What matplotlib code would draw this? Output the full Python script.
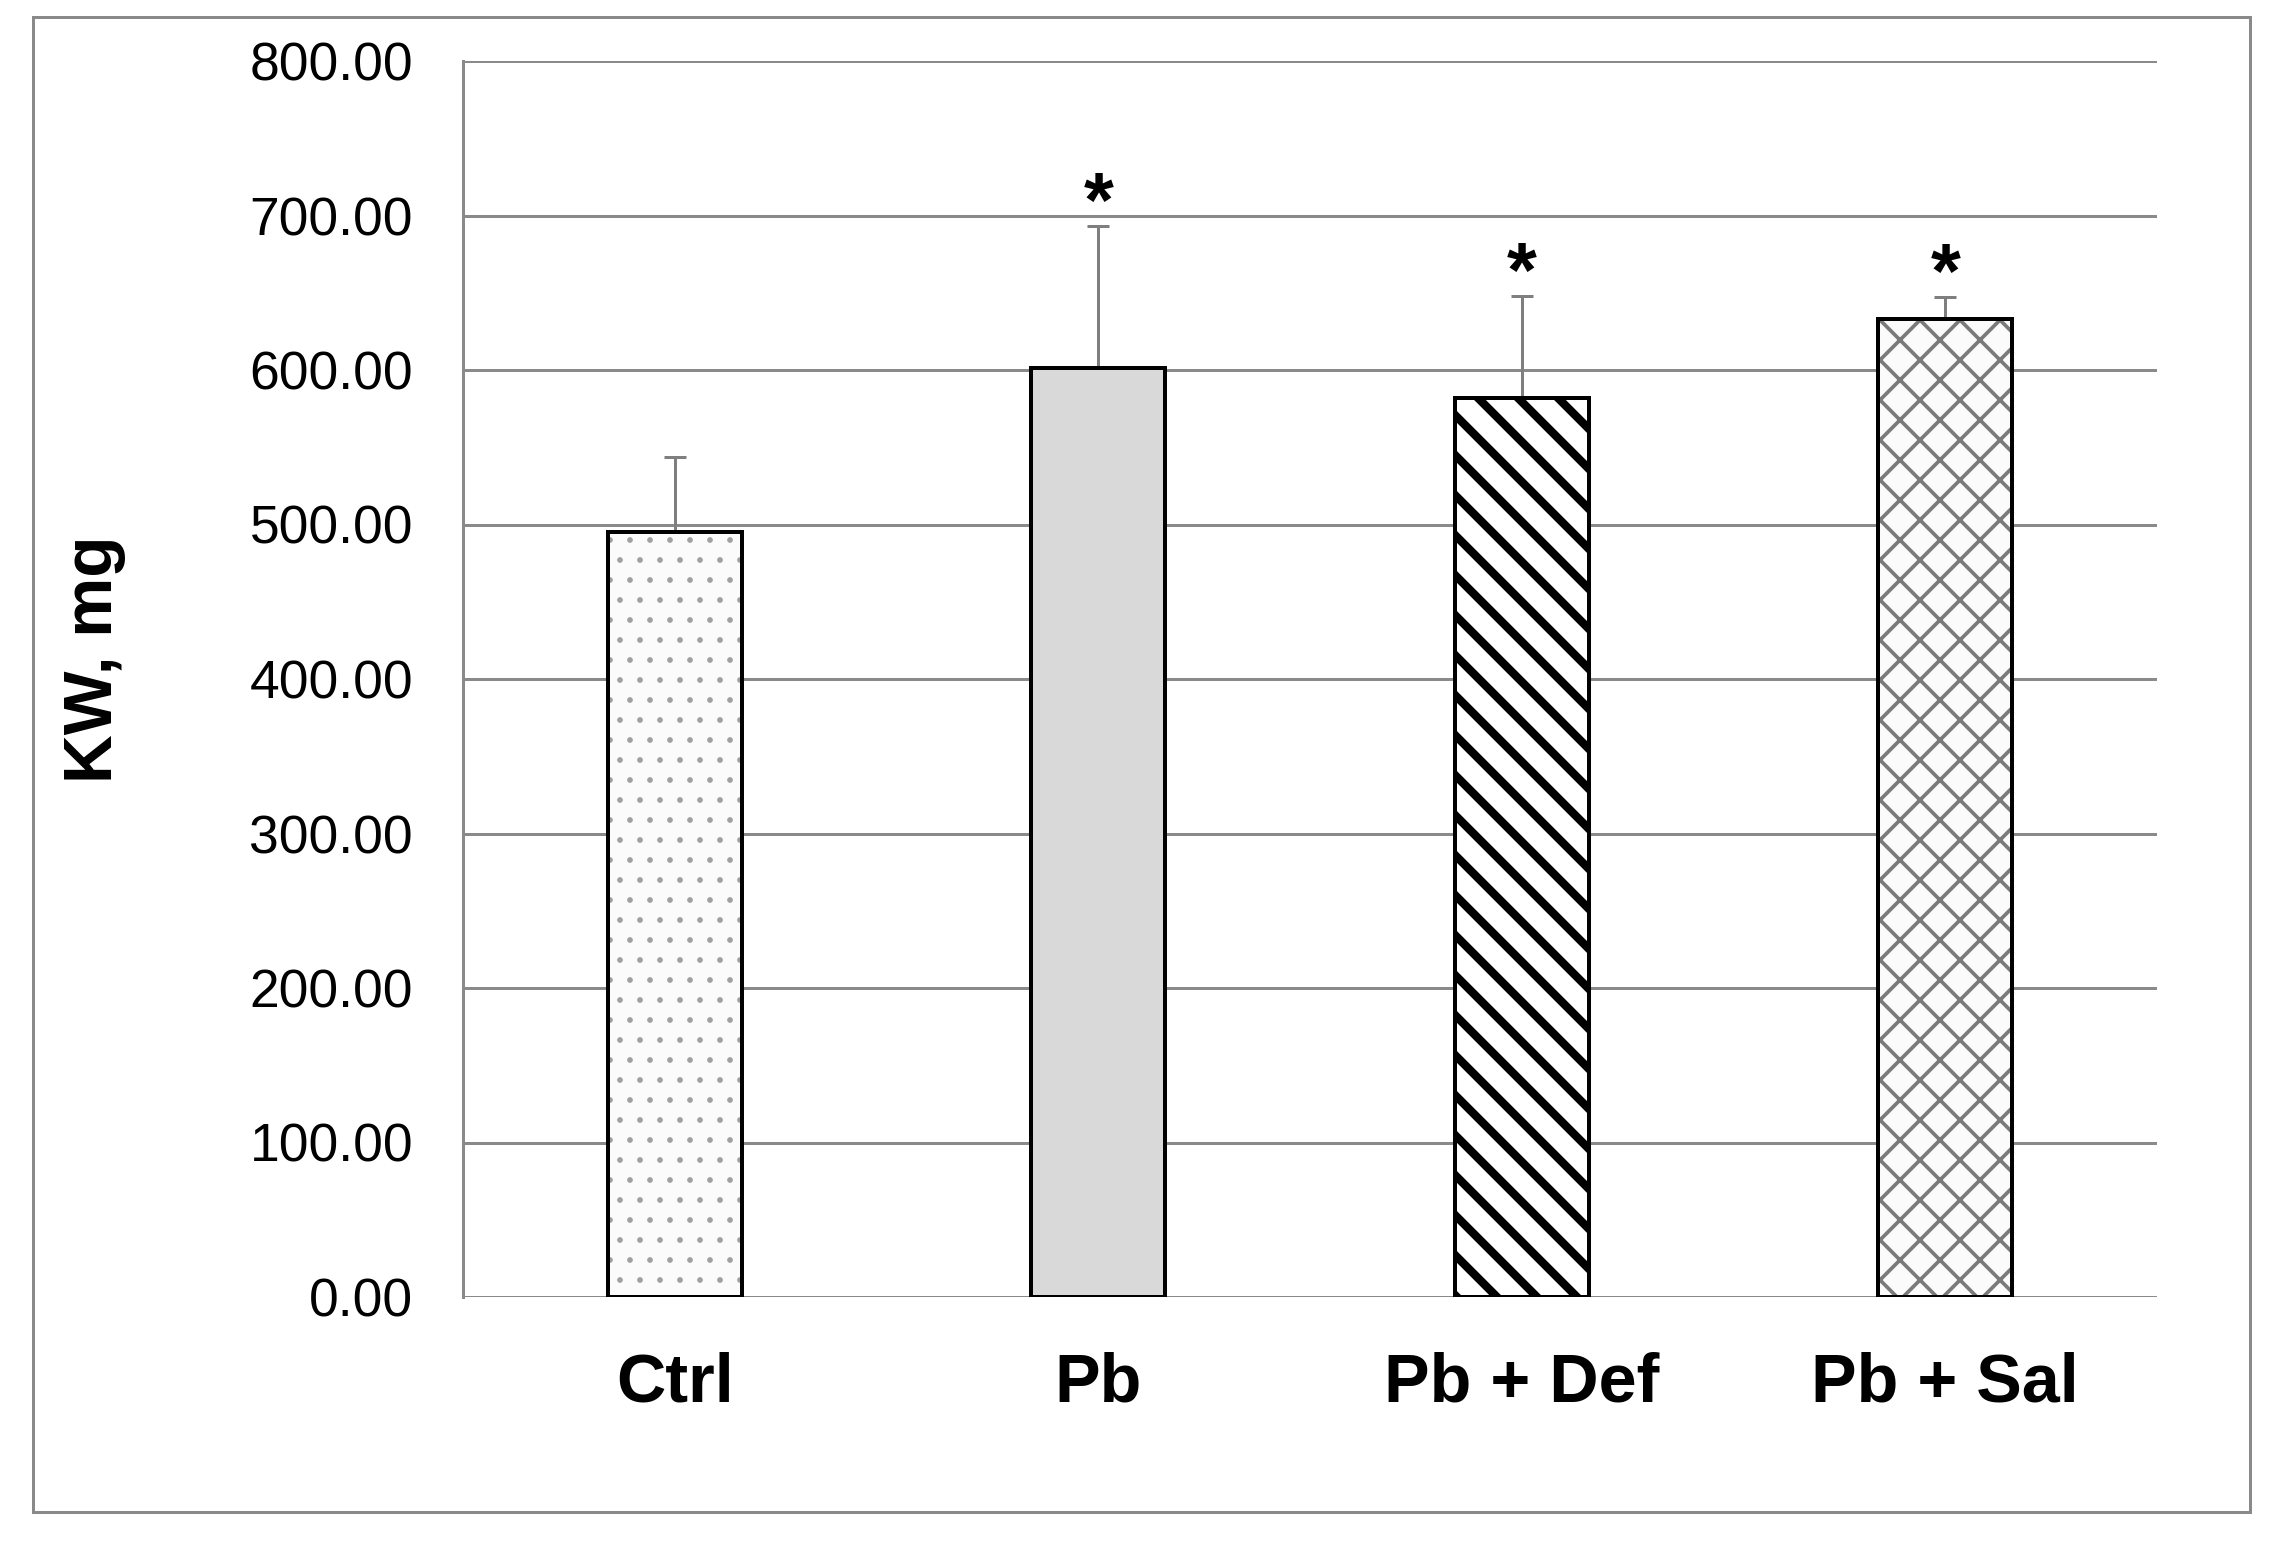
import matplotlib
matplotlib.use("Agg")
import matplotlib.pyplot as plt
from matplotlib.patches import Rectangle
from matplotlib.ticker import FormatStrFormatter

groups = ["Ctrl", "Pb", "Pb + Def", "Pb + Sal"]
kw_mean = [495, 601, 582, 633]
kw_sd = [49, 92, 66, 14]
signif = ["", "*", "*", "*"]

fills = ["#fbfbfb", "#d9d9d9", "#ffffff", "#fbfbfb"]
hatch_cols = ["#a0a0a0", "#d9d9d9", "#000000", "#7a7a7a"]
hatches = [".", "", "\\", "x"]
hatch_lw = [1.0, 1.0, 5.0, 2.2]

plt.rcParams["font.family"] = ["Liberation Sans", "DejaVu Sans"]

dpi = 120
fig = plt.figure(figsize=(2278 / dpi, 1546 / dpi), dpi=dpi, facecolor="white")
ax = fig.add_axes([463 / 2278, 1 - 1297 / 1546, (2157 - 463) / 2278, (1297 - 61) / 1546])

grid_col = "#8a8a8a"
x = list(range(len(groups)))
w = 0.316

for i in x:
    # hatch linewidth is picked up when the patch is created
    with plt.rc_context({"hatch.linewidth": hatch_lw[i]}):
        ax.bar(i, kw_mean[i], w, color=fills[i], edgecolor=hatch_cols[i],
               hatch=hatches[i], linewidth=0, zorder=2)
    ax.bar(i, kw_mean[i], w, fill=False, edgecolor="black", linewidth=2.4, zorder=3)

ax.errorbar(x, kw_mean, yerr=[[0] * len(x), kw_sd], fmt="none", ecolor="#7f7f7f",
            elinewidth=1.8, capsize=6.6, capthick=1.8, zorder=1.5)

for i in x:
    if signif[i]:
        ax.text(i, kw_mean[i] + kw_sd[i] - 11, signif[i], ha="center", va="bottom",
                fontsize=46, fontweight="bold")

ax.set_xlim(-0.5, 3.5)
ax.set_ylim(0, 800)
ax.set_yticks(range(0, 801, 100))
ax.yaxis.set_major_formatter(FormatStrFormatter("%.2f"))
ax.set_xticks(x)
ax.set_xticklabels(groups, fontsize=41, fontweight="bold")
ax.tick_params(axis="y", length=0, labelsize=32, pad=30)
ax.tick_params(axis="x", length=0, pad=33)

ax.grid(axis="y", color=grid_col, linewidth=1.8)
ax.set_axisbelow(True)
for s in ["top", "right", "bottom"]:
    ax.spines[s].set_visible(False)
ax.spines["left"].set_color(grid_col)
ax.spines["left"].set_linewidth(1.8)

ax.set_ylabel("KW, mg", fontsize=40.5, fontweight="bold")
ax.yaxis.set_label_coords((126 - 463) / (2157 - 463), 0.516)

fig.patches.append(Rectangle((33 / 2278, 1 - 1512 / 1546), (2250 - 33) / 2278, (1512 - 17) / 1546,
                             transform=fig.transFigure, fill=False, edgecolor="#8a8a8a",
                             linewidth=1.8))

fig.savefig("out.png", dpi=dpi, facecolor="white")
